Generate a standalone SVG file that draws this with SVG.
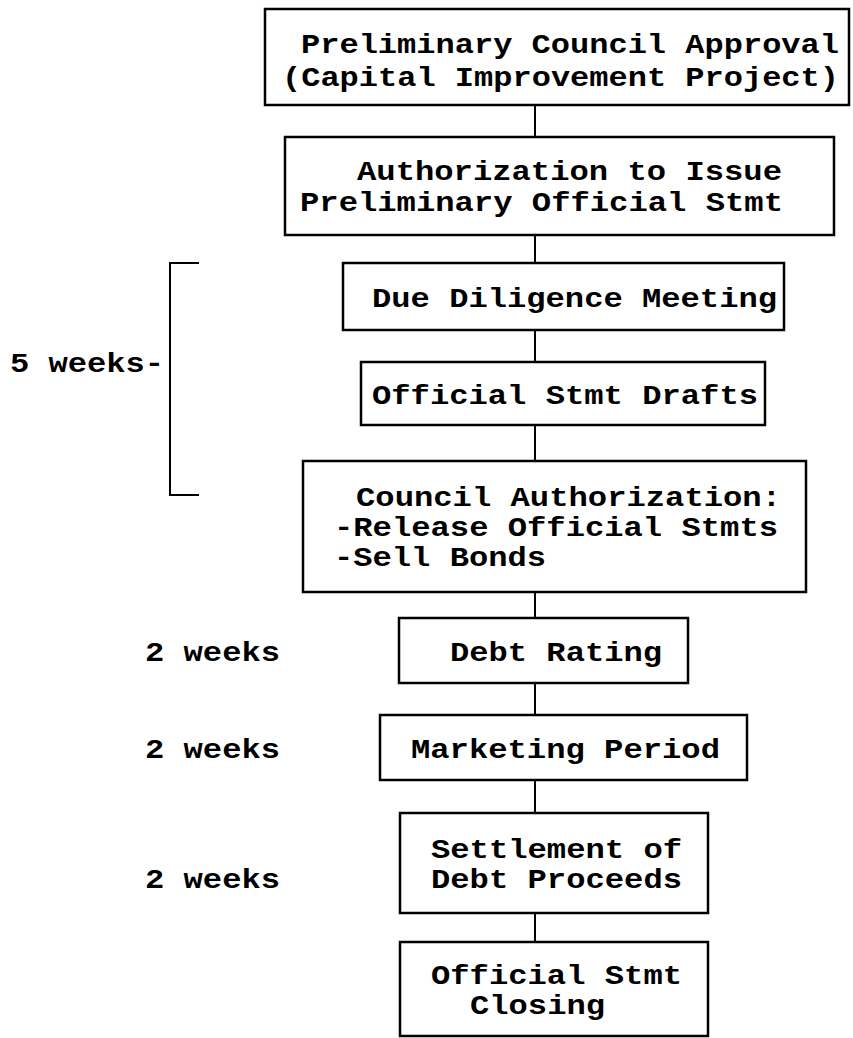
<svg xmlns="http://www.w3.org/2000/svg" width="853" height="1038" viewBox="0 0 853 1038">
<style>
text{font-family:"Liberation Mono","Courier New",monospace;font-weight:bold;font-size:27px;fill:#000}
rect{fill:#fff;stroke:#000;stroke-width:2.5}
.c{stroke:#000;stroke-width:2;fill:none}
</style>
<rect x="0" y="0" width="853" height="1038" style="stroke:none"/>
<g id="connectors">
<path class="c" d="M535 105V137M535 235V263M535 330V362M535 425V461M535 592V618M535 683V715M535 780V813M535 913V942"/>
<path class="c" d="M199 263H170V495H199"/>
</g>
<g id="n1"><rect x="265" y="9" width="584" height="96"/><text x="301" y="53" textLength="538" lengthAdjust="spacingAndGlyphs">Preliminary Council Approval</text><text x="282" y="86" textLength="557" lengthAdjust="spacingAndGlyphs">(Capital Improvement Project)</text></g>
<g id="n2"><rect x="285" y="137" width="549" height="98"/><text x="357" y="180" textLength="425" lengthAdjust="spacingAndGlyphs">Authorization to Issue</text><text x="300" y="211" textLength="483" lengthAdjust="spacingAndGlyphs">Preliminary Official Stmt</text></g>
<g id="n3"><rect x="343" y="263" width="441" height="67"/><text x="372" y="307" textLength="405" lengthAdjust="spacingAndGlyphs">Due Diligence Meeting</text></g>
<g id="n4"><rect x="361" y="362" width="404" height="63"/><text x="372" y="404" textLength="386" lengthAdjust="spacingAndGlyphs">Official Stmt Drafts</text></g>
<g id="n5"><rect x="303" y="461" width="503" height="131"/><text x="356" y="506" textLength="425" lengthAdjust="spacingAndGlyphs">Council Authorization:</text><text x="334" y="536" textLength="444" lengthAdjust="spacingAndGlyphs">-Release Official Stmts</text><text x="334" y="566" textLength="212" lengthAdjust="spacingAndGlyphs">-Sell Bonds</text></g>
<g id="n6"><rect x="399" y="618" width="289" height="65"/><text x="450" y="661" textLength="212" lengthAdjust="spacingAndGlyphs">Debt Rating</text></g>
<g id="n7"><rect x="380" y="715" width="367" height="65"/><text x="411" y="758" textLength="309" lengthAdjust="spacingAndGlyphs">Marketing Period</text></g>
<g id="n8"><rect x="400" y="813" width="308" height="100"/><text x="431" y="858" textLength="251" lengthAdjust="spacingAndGlyphs">Settlement of</text><text x="431" y="888" textLength="251" lengthAdjust="spacingAndGlyphs">Debt Proceeds</text></g>
<g id="n9"><rect x="400" y="942" width="308" height="94"/><text x="431" y="984" textLength="251" lengthAdjust="spacingAndGlyphs">Official Stmt</text><text x="470" y="1014" textLength="135" lengthAdjust="spacingAndGlyphs">Closing</text></g>
<g id="labels">
<text x="10" y="372" textLength="154" lengthAdjust="spacingAndGlyphs">5 weeks-</text>
<text x="145" y="661" textLength="135" lengthAdjust="spacingAndGlyphs">2 weeks</text>
<text x="145" y="758" textLength="135" lengthAdjust="spacingAndGlyphs">2 weeks</text>
<text x="145" y="888" textLength="135" lengthAdjust="spacingAndGlyphs">2 weeks</text>
</g>
</svg>
